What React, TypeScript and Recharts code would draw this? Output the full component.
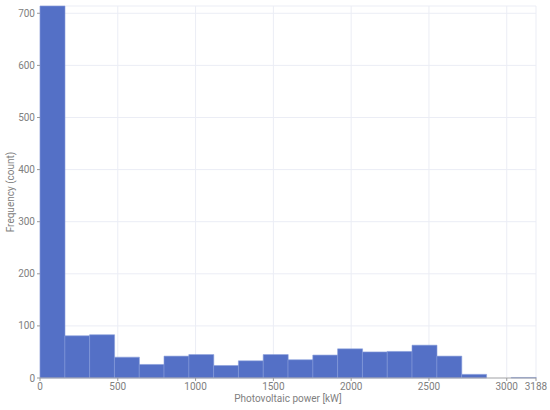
import React from "react";
import { ComposedChart, Bar, XAxis, YAxis, CartesianGrid } from "recharts";

const binStarts = [0, 159.4, 318.8, 478.2, 637.6, 797, 956.4, 1115.8, 1275.2, 1434.6, 1594, 1753.4, 1912.8, 2072.2, 2231.6, 2391, 2550.4, 2709.8, 2869.2, 3028.6];
const counts = [714, 81, 83, 40, 26, 42, 45, 24, 33, 45, 35, 44, 56, 50, 51, 63, 42, 7, 0, 1];
const xTicks = [0, 500, 1000, 1500, 2000, 2500, 3000, 3188];
const yTicks = [0, 100, 200, 300, 400, 500, 600, 700];
const binWidth = 159.4;

const data = binStarts.map((s, i) => ({ x: s + binWidth / 2, count: counts[i] }));

const font = "Roboto, 'Noto Sans', sans-serif";

export default function App() {
  return (
    <div style={{ position: "absolute", left: 0, top: 0, width: 550, height: 410, background: "#fff" }}>
      <ComposedChart
        width={550}
        height={410}
        data={data}
        margin={{ top: 6, right: 14, bottom: 0, left: 0 }}
        barCategoryGap={0}
        barGap={0}
      >
        <CartesianGrid stroke="#ebedf5" strokeWidth={1} />
        <XAxis
          dataKey="x"
          type="number"
          domain={[0, 3188]}
          ticks={xTicks}
          interval={0}
          height={32}
          tick={{ fill: "#808080", fontSize: 10, fontFamily: font }}
          tickSize={3}
          tickLine={{ stroke: "#999" }}
          axisLine={{ stroke: "#aaa" }}
          label={{ value: "Photovoltaic power [kW]", position: "insideBottom", offset: 8, fill: "#808080", fontSize: 10, fontFamily: font }}
        />
        <YAxis
          type="number"
          domain={[0, 714]}
          ticks={yTicks}
          interval={0}
          width={40}
          tick={{ fill: "#808080", fontSize: 10, fontFamily: font }}
          tickSize={3}
          tickLine={{ stroke: "#999" }}
          axisLine={false}
          label={{ value: "Frequency (count)", angle: -90, position: "insideLeft", offset: 10, fill: "#808080", fontSize: 10, fontFamily: font, style: { textAnchor: "middle" } }}
        />
        <Bar dataKey="count" fill="#5470c6" stroke="#8a9fdc" strokeWidth={0.6} isAnimationActive={false} />
      </ComposedChart>
    </div>
  );
}
